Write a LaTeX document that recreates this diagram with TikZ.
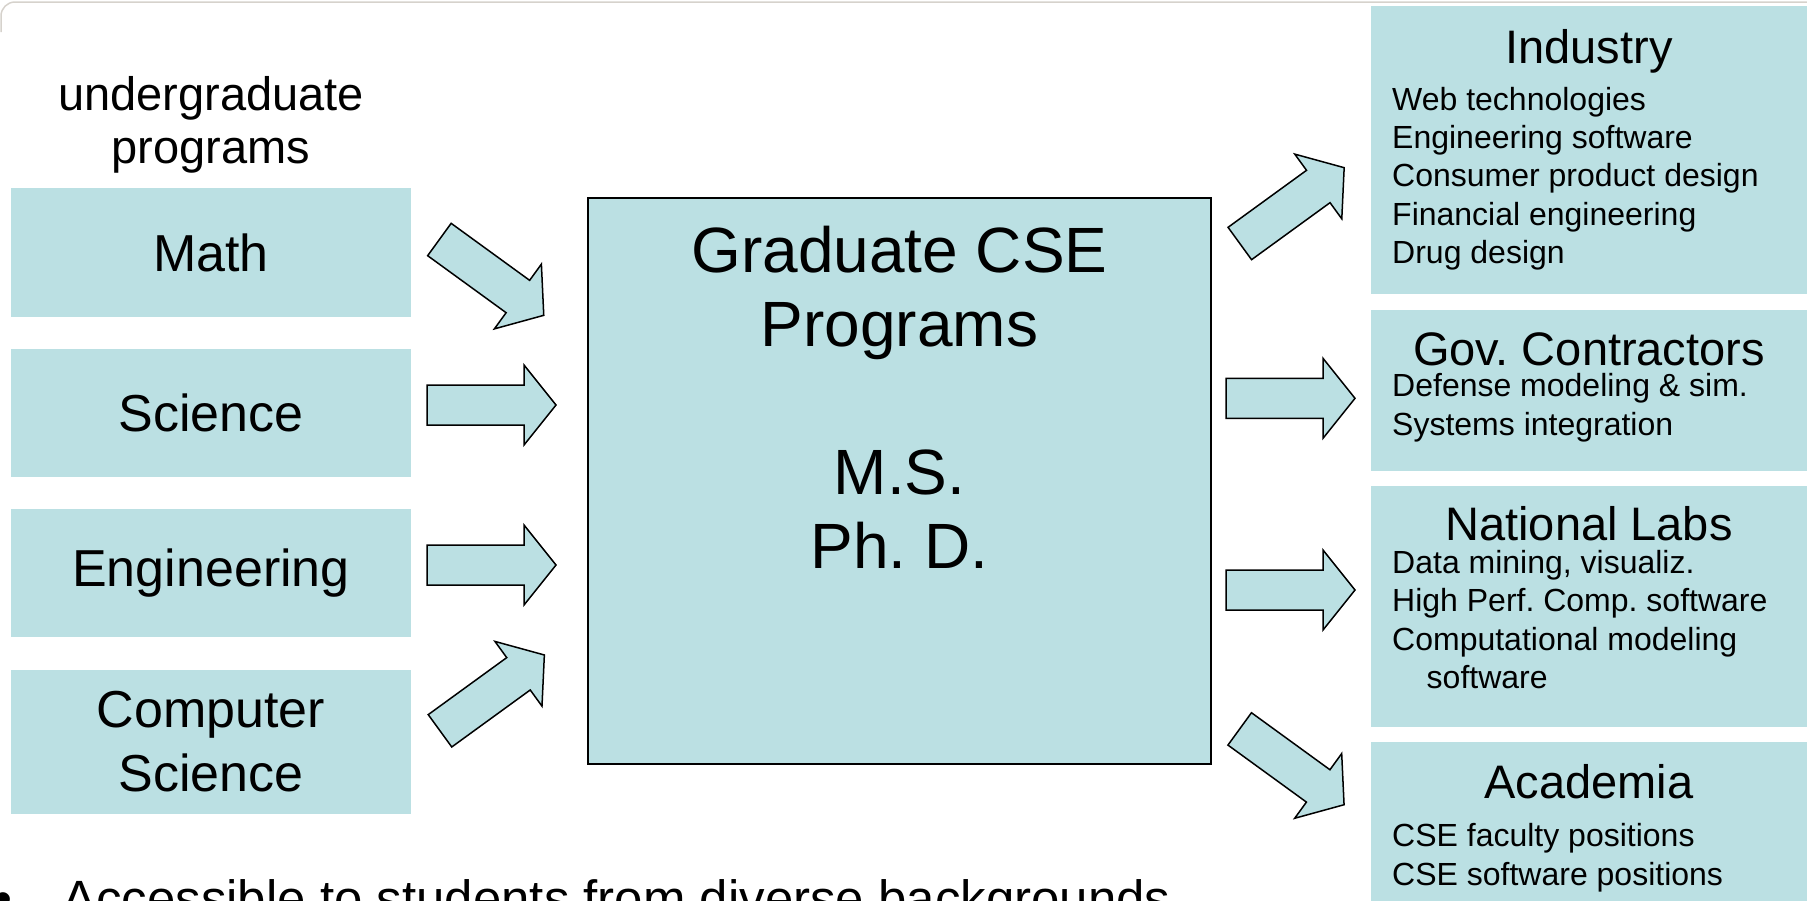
\documentclass[tikz,border=0pt]{standalone}
\usepackage{fontspec}
\setmainfont{Liberation Sans}
\usetikzlibrary{positioning}
\definecolor{boxblue}{HTML}{BBE0E3}
\definecolor{framegray}{HTML}{D6D2CC}
\frenchspacing

\tikzset{
  srcbox/.style={fill=boxblue, minimum width=400pt, inner sep=0pt, align=center, font=\fontsize{52}{64}\selectfont},
  outbox/.style={fill=boxblue, minimum width=440pt, inner sep=0pt},
  headtext/.style={font=\fontsize{47}{56}\selectfont, inner sep=0pt, anchor=base},
  itemtext/.style={font=\fontsize{32}{38.4}\selectfont, inner sep=0pt, anchor=base west},
  fatarrow/.style={fill=boxblue, draw=black, line width=1.5pt},
  blockarrow/.pic={\draw[fatarrow] (0,-20) -- (97,-20) -- (97,-40) -- (129,0) -- (97,40) -- (97,20) -- (0,20) -- cycle;}
}

\begin{document}
\begin{tikzpicture}[x=1pt,y=-1pt]
  \useasboundingbox (0,0) rectangle (1807,900);
  \draw[framegray, line width=1.5pt, rounded corners=14pt] (1,32) |- (1807,2);

  % undergraduate programs
  \node[align=center, inner sep=0pt, font=\fontsize{47}{53}\selectfont] (ug) at (211,124.6) {undergraduate\\programs};
  \node[srcbox, minimum height=129.5pt] (math) at (211,252.5) {Math};
  \node[srcbox, minimum height=128pt] (sci) at (211,413) {Science};
  \node[srcbox, minimum height=128pt] (eng) at (211,573) {Engineering};
  \node[srcbox, minimum height=144pt] (cs) at (211,742) {Computer\\Science};

  % graduate programs
  \node[draw=black, line width=1.6pt, fill=boxblue, minimum width=623pt, minimum height=566pt, inner sep=0pt] (grad) at (899.5,481) {};
  \node[below=29pt of grad.north, align=center, inner sep=0pt, font=\fontsize{64}{74}\selectfont] (gradtxt) {Graduate CSE\\Programs\\[74pt]M.S.\\Ph. D.};

  % careers
  \node[outbox, minimum height=288pt] (ind) at (1591,150) {};
  \node[outbox, minimum height=160.7pt] (gov) at (1591,390.35) {};
  \node[outbox, minimum height=240.7pt] (lab) at (1591,606.35) {};
  \node[outbox, minimum height=163pt] (acad) at (1591,823.5) {};

  \node[headtext] (indhead) at (1589,63) {Industry};
  \node[headtext] (govhead) at (1589,365) {Gov. Contractors};
  \node[headtext] (labhead) at (1589,540.7) {National Labs};
  \node[headtext] (acadhead) at (1589,798) {Academia};

  \foreach \t [count=\i] in {Web technologies, Engineering software, Consumer product design, Financial engineering, Drug design}
    \node[itemtext] (ind\i) at (1392,{110+38.4*(\i-1)}) {\t};
  \foreach \t [count=\i] in {Defense modeling \& sim., Systems integration}
    \node[itemtext] (gov\i) at (1392,{396.7+38.4*(\i-1)}) {\t};
  \foreach \t [count=\i] in {{Data mining, visualiz.}, High Perf. Comp. software, Computational modeling}
    \node[itemtext] (lab\i) at (1392,{573.3+38.4*(\i-1)}) {\t};
  \node[itemtext] (lab4) at (1426.5,688.5) {software};
  \foreach \t [count=\i] in {CSE faculty positions, CSE software positions}
    \node[itemtext] (acad\i) at (1392,{846.7+38.4*(\i-1)}) {\t};

  % block arrows
  \foreach \px/\py/\ang in {439.4/239.5/-36, 427/405/0, 427/565/0, 440/730.8/36,
                            1239.8/243.5/36, 1226/398.3/0, 1226/590/0, 1239.7/728.9/-36}
    \pic[rotate=\ang] at (\px,\py) {blockarrow};

  % bullet line (cut at the bottom)
  \node[inner sep=0pt, anchor=base west, font=\fontsize{51}{61}\selectfont] (bul) at (-6,916) {•};
  \node[inner sep=0pt, anchor=base west, font=\fontsize{51}{61}\selectfont] (acc) at (62,916) {Accessible to students from diverse backgrounds};
\end{tikzpicture}
\end{document}
